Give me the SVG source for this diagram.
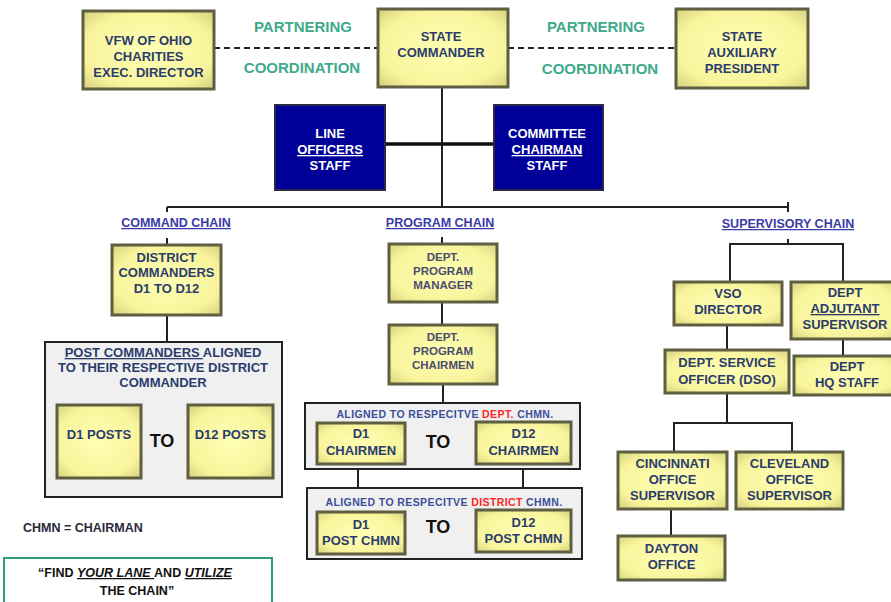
<svg xmlns="http://www.w3.org/2000/svg" width="891" height="602" viewBox="0 0 891 602">
<defs>
<radialGradient id="yg" cx="0.5" cy="0.5" r="0.7">
<stop offset="0" stop-color="#ffffb4"/>
<stop offset="0.7" stop-color="#f8f49c"/>
<stop offset="1" stop-color="#d6d07e"/>
</radialGradient>
<style>
.yb{fill:url(#yg);stroke:#5e5e40;stroke-width:3}
.bb{fill:#000099;stroke:#2a2a44;stroke-width:2}
.cont{fill:#f0f0f0;stroke:#222;stroke-width:2}
.t{font-family:"Liberation Sans",Arial,sans-serif;font-weight:bold;font-size:13px;fill:#2b3c6c;text-anchor:middle}
.ts{font-family:"Liberation Sans",Arial,sans-serif;font-weight:bold;font-size:11.5px;fill:#4a4c6e;text-anchor:middle}
.tw{font-family:"Liberation Sans",Arial,sans-serif;font-weight:bold;font-size:13px;fill:#ffffff;text-anchor:middle}
.tg{font-family:"Liberation Sans",Arial,sans-serif;font-weight:bold;font-size:15px;fill:#3fa98b;text-anchor:middle}
.tc{font-family:"Liberation Sans",Arial,sans-serif;font-weight:bold;font-size:12.5px;fill:#3a3aa8;text-anchor:middle;text-decoration:underline}
.to{font-family:"Liberation Sans",Arial,sans-serif;font-weight:bold;font-size:18px;fill:#111;text-anchor:middle}
.ta{font-family:"Liberation Sans",Arial,sans-serif;font-weight:bold;font-size:10.5px;fill:#3b4f9a;text-anchor:middle;letter-spacing:0.4px}
.red{fill:#ff2525}
.ln{stroke:#222;stroke-width:2;fill:none}
</style>
</defs>
<rect width="891" height="602" fill="#ffffff"/>

<g id="connectors">
<line class="ln" x1="214" y1="48" x2="378" y2="48" stroke-dasharray="6,4" stroke="#333"/>
<line class="ln" x1="508" y1="48" x2="676" y2="48" stroke-dasharray="6,4" stroke="#333"/>
<line class="ln" x1="442" y1="87" x2="442" y2="207"/>
<line x1="385" y1="144" x2="494" y2="144" stroke="#111" stroke-width="3.5"/>
<line class="ln" x1="167" y1="207" x2="788" y2="207" stroke="#444"/>
<line class="ln" x1="167" y1="207" x2="167" y2="212"/>
<line class="ln" x1="788" y1="202" x2="788" y2="212"/>
<line class="ln" x1="167" y1="238" x2="167" y2="245"/>
<line class="ln" x1="167" y1="315" x2="167" y2="342"/>
<line class="ln" x1="442" y1="237" x2="442" y2="244"/>
<line class="ln" x1="442" y1="302" x2="442" y2="325"/>
<line class="ln" x1="443" y1="384" x2="443" y2="403"/>
<line class="ln" x1="358" y1="469" x2="358" y2="488"/>
<line class="ln" x1="523" y1="469" x2="523" y2="488"/>
<polyline class="ln" points="788,239 788,243"/>
<polyline class="ln" points="730,282 730,244 843,244 843,282"/>
<line class="ln" x1="727" y1="325" x2="727" y2="350"/>
<line class="ln" x1="843" y1="338" x2="843" y2="355"/>
<polyline class="ln" points="727,393 727,423"/>
<polyline class="ln" points="674,452 674,423 792,423 792,452"/>
<line class="ln" x1="671" y1="509" x2="671" y2="536"/>
</g>

<g id="labels">
<text class="tg" x="303" y="32">PARTNERING</text>
<text class="tg" x="302" y="73">COORDINATION</text>
<text class="tg" x="596" y="32">PARTNERING</text>
<text class="tg" x="600" y="74">COORDINATION</text>
<text class="tc" x="176" y="227">COMMAND  CHAIN</text>
<text class="tc" x="440" y="227">PROGRAM CHAIN</text>
<text class="tc" x="788" y="228">SUPERVISORY CHAIN</text>
<text x="23" y="532" font-family="Liberation Sans, Arial, sans-serif" font-weight="bold" font-size="12.5" fill="#2a2a3a">CHMN = CHAIRMAN</text>
</g>

<g id="vfw">
<rect class="yb" x="83" y="11" width="131" height="78"/>
<text class="t" x="148.5" y="45">VFW OF OHIO</text>
<text class="t" x="148.5" y="61">CHARITIES</text>
<text class="t" x="148.5" y="77">EXEC. DIRECTOR</text>
</g>
<g id="state-commander">
<rect class="yb" x="378" y="9" width="130" height="78"/>
<text class="t" x="441" y="41">STATE</text>
<text class="t" x="441" y="57">COMMANDER</text>
</g>
<g id="state-auxiliary">
<rect class="yb" x="676" y="9" width="132" height="79"/>
<text class="t" x="742" y="41">STATE</text>
<text class="t" x="742" y="57">AUXILIARY</text>
<text class="t" x="742" y="73">PRESIDENT</text>
</g>
<g id="line-officers">
<rect class="bb" x="275" y="105" width="110" height="85"/>
<text class="tw" x="330" y="138">LINE</text>
<text class="tw" x="330" y="154" text-decoration="underline">OFFICERS</text>
<text class="tw" x="330" y="170">STAFF</text>
</g>
<g id="committee">
<rect class="bb" x="494" y="105" width="109" height="85"/>
<text class="tw" x="547" y="138">COMMITTEE</text>
<text class="tw" x="547" y="154" text-decoration="underline">CHAIRMAN</text>
<text class="tw" x="547" y="170">STAFF</text>
</g>

<g id="district-commanders">
<rect class="yb" x="112" y="245" width="109" height="70"/>
<text class="t" x="166.5" y="262">DISTRICT</text>
<text class="t" x="166.5" y="277">COMMANDERS</text>
<text class="t" x="166.5" y="293">D1 TO D12</text>
</g>
<g id="post-commanders">
<rect class="cont" x="45" y="342" width="237" height="155"/>
<text class="t" x="163" y="357"><tspan text-decoration="underline">POST COMMANDERS </tspan>ALIGNED</text>
<text class="t" x="163" y="372">TO THEIR RESPECTIVE DISTRICT</text>
<text class="t" x="163" y="387">COMMANDER</text>
<text class="to" x="162" y="447" font-size="16">TO</text>
</g>
<g id="d1-posts">
<rect class="yb" x="57" y="405" width="84" height="73"/>
<text class="t" x="99" y="439">D1 POSTS</text>
</g>
<g id="d12-posts">
<rect class="yb" x="188" y="405" width="85" height="73"/>
<text class="t" x="230.5" y="439">D12 POSTS</text>
</g>

<g id="dept-program-manager">
<rect class="yb" x="389" y="244" width="108" height="58"/>
<text class="ts" x="443" y="261">DEPT.</text>
<text class="ts" x="443" y="275">PROGRAM</text>
<text class="ts" x="443" y="289">MANAGER</text>
</g>
<g id="dept-program-chairmen">
<rect class="yb" x="389" y="325" width="108" height="59"/>
<text class="ts" x="443" y="341">DEPT.</text>
<text class="ts" x="443" y="355">PROGRAM</text>
<text class="ts" x="443" y="369">CHAIRMEN</text>
</g>
<g id="dept-aligned">
<rect class="cont" x="305" y="403" width="275" height="66"/>
<text class="ta" x="445" y="418">ALIGNED TO RESPECITVE <tspan class="red">DEPT.</tspan> CHMN.</text>
<text class="to" x="438" y="448">TO</text>
</g>
<g id="d1-chairmen">
<rect class="yb" x="317" y="423" width="88" height="41"/>
<text class="t" x="361" y="438">D1</text>
<text class="t" x="361" y="455">CHAIRMEN</text>
</g>
<g id="d12-chairmen">
<rect class="yb" x="476" y="422" width="95" height="42"/>
<text class="t" x="523.5" y="438">D12</text>
<text class="t" x="523.5" y="455">CHAIRMEN</text>
</g>
<g id="district-aligned">
<rect class="cont" x="307" y="488" width="275" height="71"/>
<text class="ta" x="444" y="506">ALIGNED TO RESPECITVE <tspan class="red">DISTRICT</tspan> CHMN.</text>
<text class="to" x="438" y="533">TO</text>
</g>
<g id="d1-post-chmn">
<rect class="yb" x="317" y="512" width="88" height="42"/>
<text class="t" x="361" y="529">D1</text>
<text class="t" x="361" y="545">POST CHMN</text>
</g>
<g id="d12-post-chmn">
<rect class="yb" x="476" y="510" width="95" height="42"/>
<text class="t" x="523.5" y="527">D12</text>
<text class="t" x="523.5" y="543">POST CHMN</text>
</g>

<g id="vso-director">
<rect class="yb" x="674" y="282" width="108" height="43"/>
<text class="t" x="728" y="298">VSO</text>
<text class="t" x="728" y="314">DIRECTOR</text>
</g>
<g id="dept-adjutant">
<rect class="yb" x="791" y="282" width="110" height="57"/>
<text class="t" x="845" y="297">DEPT</text>
<text class="t" x="845" y="313" text-decoration="underline">ADJUTANT</text>
<text class="t" x="845" y="329">SUPERVISOR</text>
</g>
<g id="dso">
<rect class="yb" x="665" y="350" width="124" height="43"/>
<text class="t" x="727" y="367">DEPT. SERVICE</text>
<text class="t" x="727" y="384">OFFICER (DSO)</text>
</g>
<g id="hq-staff">
<rect class="yb" x="794" y="356" width="106" height="39"/>
<text class="t" x="847" y="371">DEPT</text>
<text class="t" x="847" y="387">HQ STAFF</text>
</g>
<g id="cincinnati">
<rect class="yb" x="618" y="452" width="109" height="57"/>
<text class="t" x="672.5" y="468">CINCINNATI</text>
<text class="t" x="672.5" y="484">OFFICE</text>
<text class="t" x="672.5" y="500">SUPERVISOR</text>
</g>
<g id="cleveland">
<rect class="yb" x="736" y="452" width="107" height="57"/>
<text class="t" x="789.5" y="468">CLEVELAND</text>
<text class="t" x="789.5" y="484">OFFICE</text>
<text class="t" x="789.5" y="500">SUPERVISOR</text>
</g>
<g id="dayton">
<rect class="yb" x="618" y="536" width="107" height="44"/>
<text class="t" x="671.5" y="553">DAYTON</text>
<text class="t" x="671.5" y="569">OFFICE</text>
</g>

<g id="motto">
<rect x="4" y="558" width="268" height="50" fill="#ffffff" stroke="#2e9c80" stroke-width="2"/>
<text x="135" y="577" font-family="Liberation Sans, Arial, sans-serif" font-weight="bold" font-size="12.5" fill="#111" text-anchor="middle">“FIND <tspan font-style="italic" text-decoration="underline">YOUR LANE </tspan>AND <tspan font-style="italic" text-decoration="underline">UTILIZE</tspan></text>
<text x="137" y="595" font-family="Liberation Sans, Arial, sans-serif" font-weight="bold" font-size="12.5" fill="#111" text-anchor="middle">THE  CHAIN”</text>
</g>
</svg>
